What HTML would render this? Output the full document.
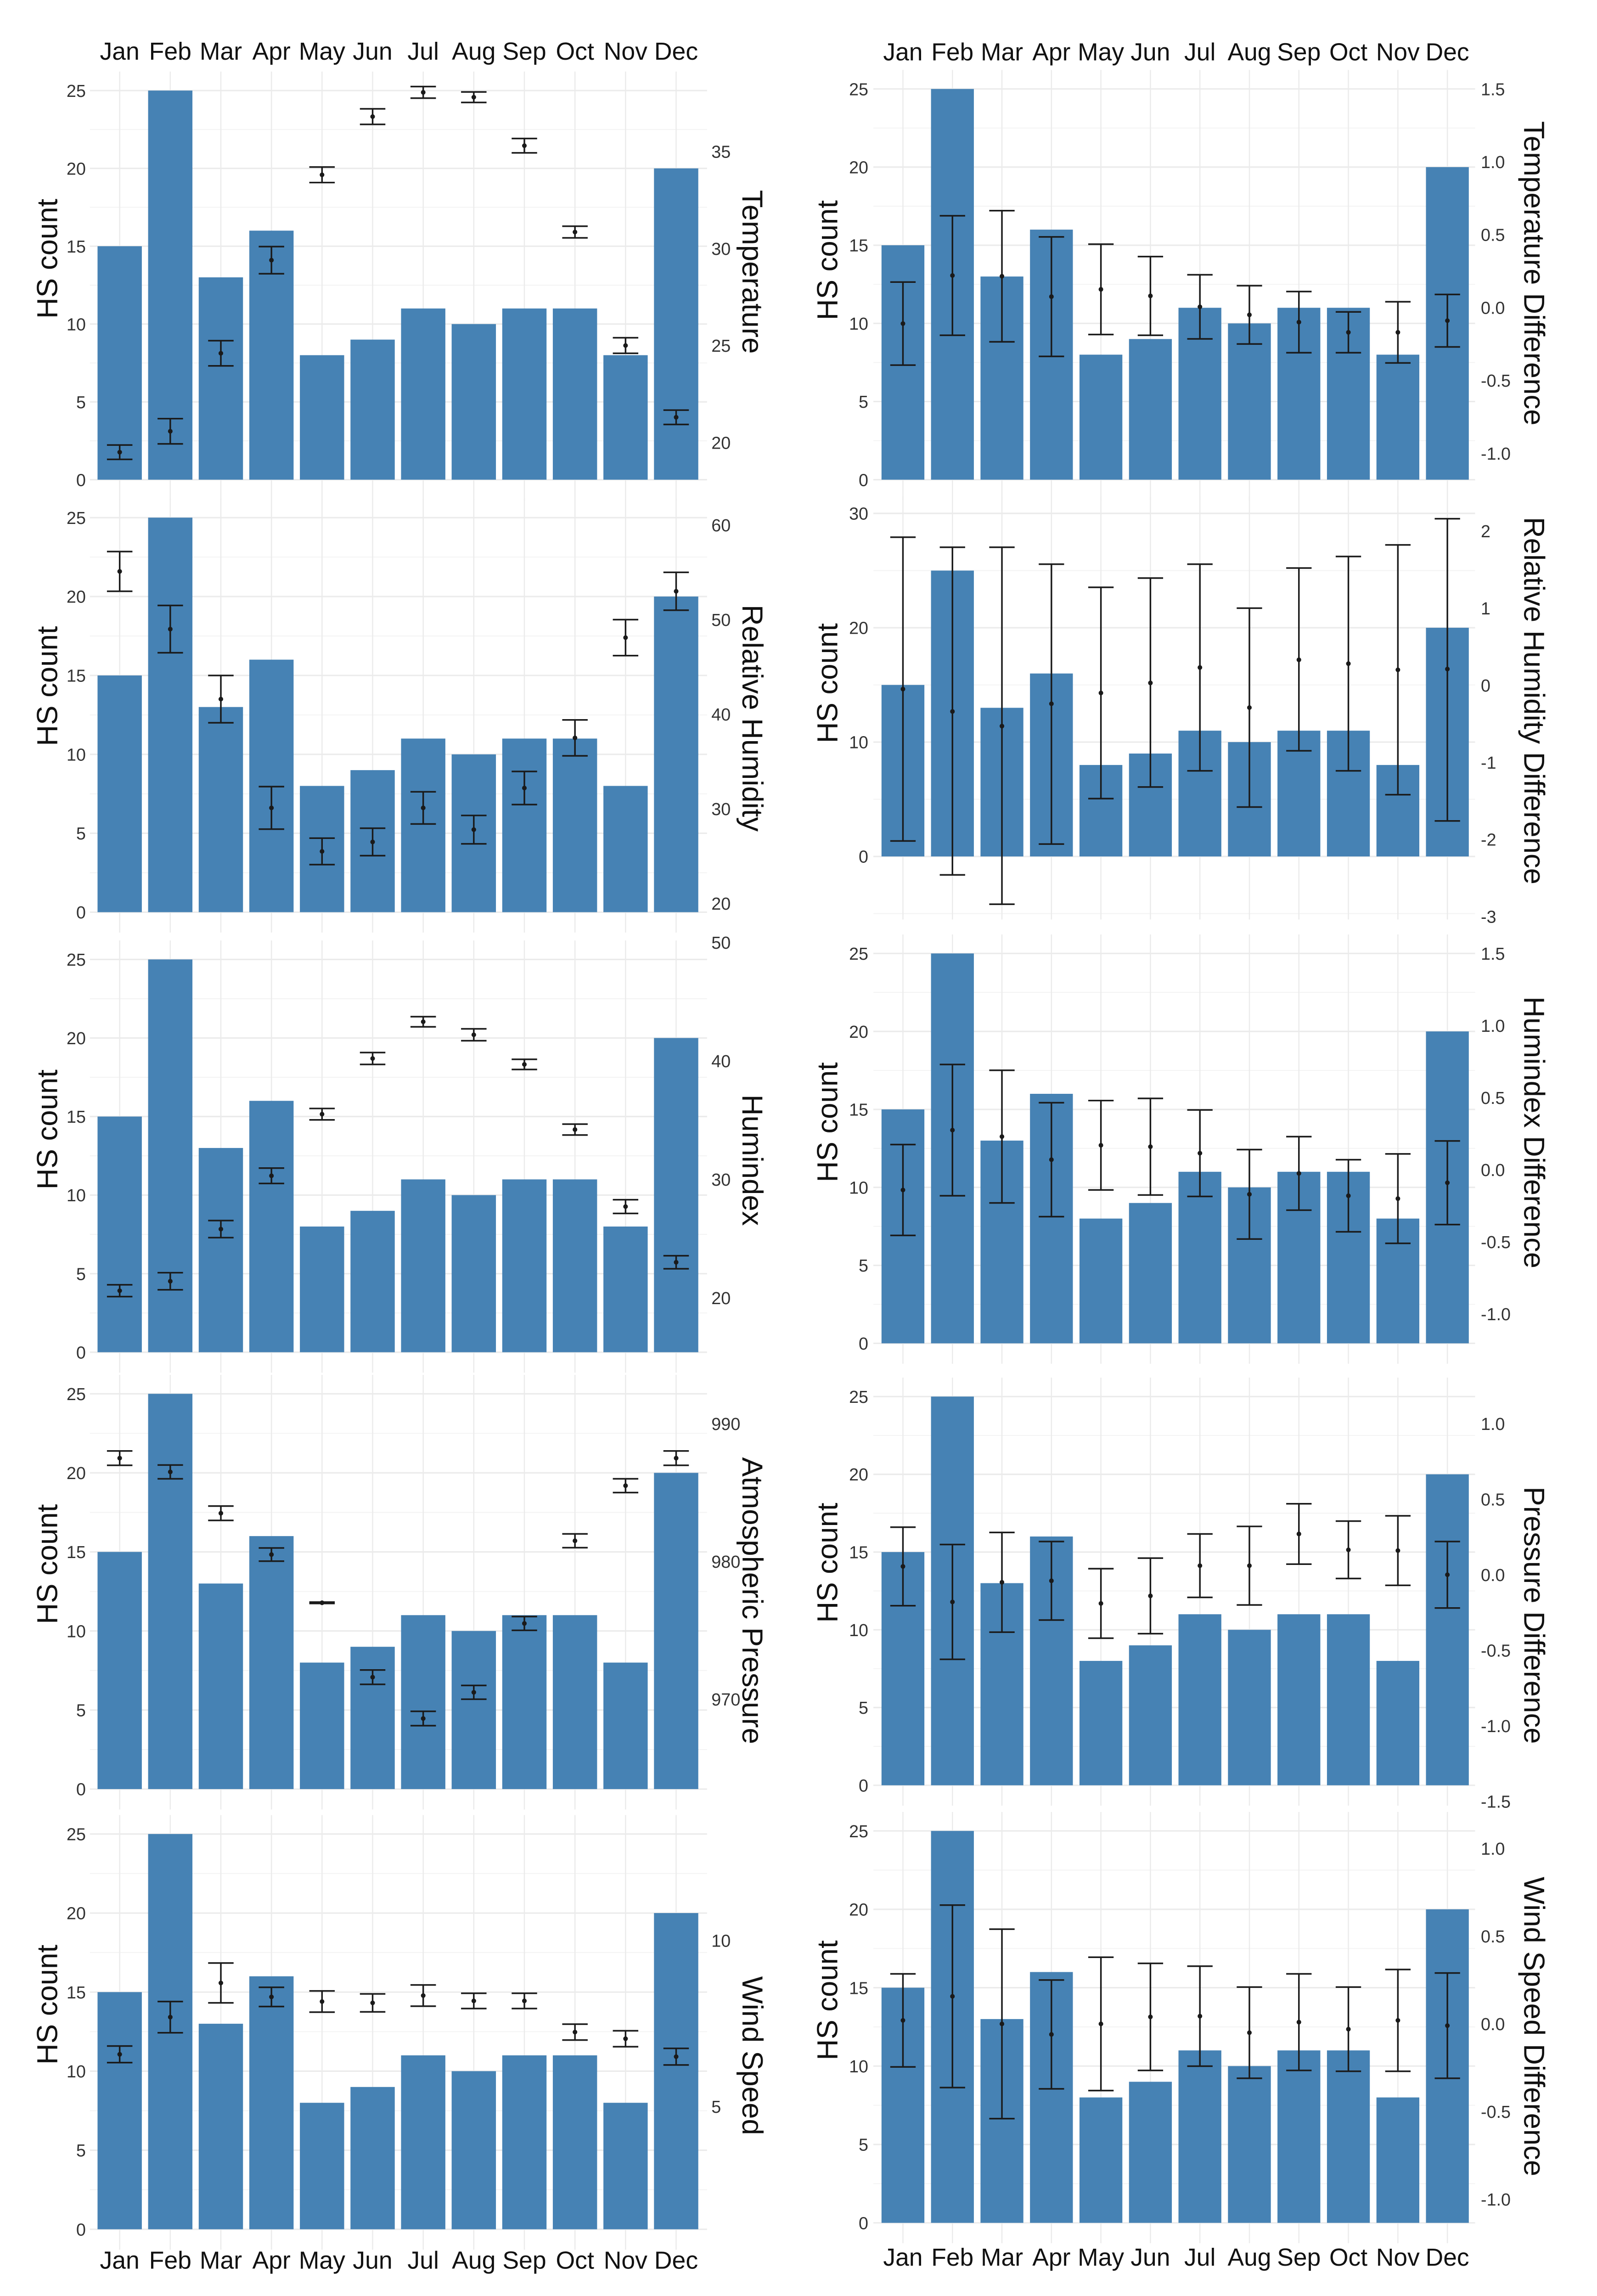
<!DOCTYPE html>
<html><head><meta charset="utf-8"><title>HS count by month with weather variables</title>
<style>
html,body{margin:0;padding:0;background:#fff;width:3478px;height:5043px;overflow:hidden;}
svg{display:block;}
text{font-family:"Liberation Sans",sans-serif;}
</style></head>
<body>
<svg id="chart" xmlns="http://www.w3.org/2000/svg" width="3478" height="5043" viewBox="0 0 1083.5 1571" preserveAspectRatio="none" overflow="hidden">
<g id="colL" transform="translate(-0.5,-1.6) scale(0.982,0.9895)"></g>
<g id="colR" transform="translate(7.1,-1.6) scale(0.979,0.9895)"></g>
</svg>
<script>
const months=["Jan","Feb","Mar","Apr","May","Jun","Jul","Aug","Sep","Oct","Nov","Dec"];
const counts=[15,25,13,16,8,9,11,10,11,11,8,20];
const tempMean=[19.5,20.58,24.6,29.4,33.8,36.8,38.05,37.8,35.3,30.85,25.0,21.3];
const tempErr=[0.37,0.65,0.65,0.7,0.4,0.4,0.3,0.27,0.37,0.3,0.4,0.37];
const rhMean=[55.1,49.0,41.6,30.1,25.5,26.5,30.1,27.8,32.2,37.5,48.1,53.0];
const rhErr=[2.1,2.5,2.5,2.25,1.4,1.45,1.7,1.5,1.75,1.9,1.9,2.0];
const hxMean=[20.6,21.4,25.8,30.3,35.5,40.2,43.3,42.2,39.7,34.2,27.7,23.0];
const hxErr=[0.5,0.72,0.72,0.65,0.48,0.5,0.43,0.5,0.43,0.46,0.58,0.55];
const apMean=[987.5,986.5,983.5,980.5,977.0,971.6,968.6,970.5,975.5,981.5,985.5,987.5];
const apErr=[0.52,0.5,0.52,0.48,0.05,0.52,0.52,0.5,0.5,0.5,0.5,0.52];
const wsMean=[6.57,7.69,8.72,8.3,8.16,8.12,8.34,8.18,8.18,7.24,7.04,6.5];
const wsErr=[0.25,0.47,0.6,0.29,0.32,0.27,0.32,0.23,0.23,0.24,0.24,0.25];
const tdMean=[-0.11,0.22,0.215,0.075,0.125,0.08,0.005,-0.05,-0.1,-0.17,-0.17,-0.09];
const tdErr=[0.285,0.41,0.45,0.41,0.31,0.27,0.22,0.2,0.21,0.14,0.21,0.18];
const rhdHigh=[1.92,1.79,1.79,1.57,1.27,1.39,1.57,1.0,1.52,1.67,1.82,2.16];
const rhdMean=[-0.05,-0.34,-0.53,-0.24,-0.1,0.03,0.23,-0.29,0.33,0.28,0.2,0.21];
const rhdLow=[-2.02,-2.46,-2.84,-2.06,-1.47,-1.32,-1.11,-1.58,-0.85,-1.11,-1.42,-1.76];
const hdMean=[-0.14,0.275,0.23,0.07,0.17,0.16,0.115,-0.17,-0.025,-0.18,-0.2,-0.09];
const hdErr=[0.315,0.455,0.46,0.395,0.31,0.335,0.3,0.31,0.255,0.25,0.31,0.29];
const pdMean=[0.055,-0.18,-0.05,-0.04,-0.19,-0.14,0.06,0.06,0.27,0.165,0.16,0.0];
const pdErr=[0.26,0.38,0.33,0.26,0.23,0.25,0.21,0.26,0.2,0.19,0.23,0.22];
const wdMean=[0.02,0.157,0.0,-0.06,0.0,0.04,0.044,-0.05,0.01,-0.03,0.02,-0.01];
const wdErr=[0.265,0.52,0.54,0.31,0.38,0.305,0.285,0.26,0.275,0.24,0.29,0.3];
const countTicks=[0,5,10,15,20,25];
const countTicksRH=[0,10,20,30];

const NS="http://www.w3.org/2000/svg";
function mk(tag,attrs,parent){const e=document.createElementNS(NS,tag);for(const k in attrs)e.setAttribute(k,attrs[k]);parent.appendChild(e);return e;}

const cols={
 L:{x0:83.2,step:34.95,barW:30.6,gx1:62.6,gx2:489,cLab:59.8,sLab:492,hsX:33,tX:520.5,cap:8.8,el:document.getElementById("colL")},
 R:{x0:618.5,step:34.3,barW:29.7,gx1:598,gx2:1015,cLab:594.5,sLab:1019,hsX:566,tX:1056,cap:8.8,el:document.getElementById("colR")}
};
function sym(m,e){return {mean:m,lo:m.map((v,i)=>v-e[i]),hi:m.map((v,i)=>v+e[i])};}
const panels=[
 {name:"temperature",col:"L",zeroY:330.5,y25:63.7,ct:countTicks,s1:[35,105.5],s2:[20,305],sTicks:[20,25,30,35],sFmt:0,title:"Temperature",hsY:179,tY:188,d:sym(tempMean,tempErr),top:"top"},
 {name:"relative-humidity",col:"L",zeroY:627,y25:356.5,ct:countTicks,s1:[60,361.6],s2:[20,621],sTicks:[20,30,40,50,60],sFmt:0,title:"Relative Humidity",hsY:472,tY:494,d:sym(rhMean,rhErr)},
 {name:"humindex",col:"L",zeroY:928.7,y25:659.4,ct:countTicks,s1:[50,647.7],s2:[20,891.4],sTicks:[20,30,40,50],sFmt:0,title:"Humindex",hsY:776,tY:797,d:sym(hxMean,hxErr)},
 {name:"atmospheric-pressure",col:"L",zeroY:1228.2,y25:957.2,ct:countTicks,s1:[990,977.7],s2:[970,1166.6],sTicks:[970,980,990],sFmt:0,title:"Atmospheric Pressure",hsY:1074,tY:1099,d:sym(apMean,apErr)},
 {name:"wind-speed",col:"L",zeroY:1530,y25:1259,ct:countTicks,s1:[10,1332],s2:[5,1445.8],sTicks:[5,10],sFmt:0,title:"Wind Speed",hsY:1376,tY:1411,d:sym(wsMean,wsErr),bottom:1551},
 {name:"temperature-difference",col:"R",zeroY:330.5,y25:62.6,ct:countTicks,s1:[1.5,62.6],s2:[-1.0,312.4],sTicks:[-1,-0.5,0,0.5,1,1.5],sFmt:1,title:"Temperature Difference",hsY:180,tY:189,d:sym(tdMean,tdErr),top:"top"},
 {name:"relative-humidity-difference",col:"R",zeroY:588.8,y25:588.8-25*7.84,ct:countTicksRH,s1:[2,365.7],s2:[-3,630],sTicks:[-3,-2,-1,0,1,2],sFmt:0,title:"Relative Humidity Difference",hsY:470,tY:482,d:{mean:rhdMean,lo:rhdLow,hi:rhdHigh},gTop:342,gBot:632,minorExtra:[-5]},
 {name:"humindex-difference",col:"R",zeroY:922.6,y25:655.3,ct:countTicks,s1:[1.5,655.3],s2:[-1.0,902.5],sTicks:[-1,-0.5,0,0.5,1,1.5],sFmt:1,title:"Humindex Difference",hsY:771,tY:778,d:sym(hdMean,hdErr)},
 {name:"pressure-difference",col:"R",zeroY:1225.6,y25:959.1,ct:countTicks,s1:[1.0,977.7],s2:[-1.5,1236.6],sTicks:[-1.5,-1,-0.5,0,0.5,1],sFmt:1,title:"Pressure Difference",hsY:1073,tY:1109,d:sym(pdMean,pdErr)},
 {name:"wind-speed-difference",col:"R",zeroY:1525.6,y25:1256.9,ct:countTicks,s1:[1.0,1268.9],s2:[-1.0,1509.5],sTicks:[-1,-0.5,0,0.5,1],sFmt:1,title:"Wind Speed Difference",hsY:1373,tY:1391,d:sym(wdMean,wdErr),bottom:1549}
];
const topLabelY={L:36.5,R:37};

panels.forEach(p=>{
 const c=cols[p.col];
 const g=mk("g",{},c.el);
 
 
 const unit=(p.zeroY-p.y25)/25;
 const yC=v=>p.zeroY-v*unit;
 const ys=v=>p.s1[1]+(v-p.s1[0])*(p.s2[1]-p.s1[1])/(p.s2[0]-p.s1[0]);
 const xM=i=>c.x0+i*c.step;
 const maxC=p.ct[p.ct.length-1];
 const gTop=p.gTop||(yC(maxC)-13);
 const gBot=p.gBot||(p.zeroY+14);
 const stepC=p.ct[1]-p.ct[0];
 const minors=p.ct.slice(0,-1).map(v=>v+stepC/2).concat(p.minorExtra||[]);
 minors.forEach(v=>{const l=mk("line",{x1:c.gx1,x2:c.gx2,y1:yC(v),y2:yC(v),stroke:"#f3f3f3","stroke-width":0.6},g);
  });
 months.forEach((m,i)=>{const l=mk("line",{x1:xM(i),x2:xM(i),y1:gTop,y2:gBot,stroke:"#ebebeb","stroke-width":0.8},g);
  });
 p.ct.forEach(v=>{
  const l=mk("line",{x1:c.gx1,x2:c.gx2,y1:yC(v),y2:yC(v),stroke:"#ebebeb","stroke-width":1},g);
  
  const t=mk("text",{x:c.cLab,y:yC(v)+4.3,"text-anchor":"end","font-size":12,fill:"#333"},g);
  t.textContent=v;
  
 });
 counts.forEach((v,i)=>{
  const r=mk("rect",{x:xM(i)-c.barW/2,y:yC(v),width:c.barW,height:p.zeroY-yC(v),fill:"#4682b4"},g);
  
  
 });
 months.forEach((m,i)=>{
  const eg=mk("g",{stroke:"#1a1a1a","stroke-width":1.1,fill:"none"},g);
  
  
  const yh=ys(p.d.hi[i]),yl=ys(p.d.lo[i]),ym=ys(p.d.mean[i]),x=xM(i);
  mk("line",{x1:x,x2:x,y1:yh,y2:yl},eg);
  mk("line",{x1:x-c.cap,x2:x+c.cap,y1:yh,y2:yh},eg);
  mk("line",{x1:x-c.cap,x2:x+c.cap,y1:yl,y2:yl},eg);
  const d=mk("circle",{cx:x,cy:ym,r:1.6,fill:"#1a1a1a",stroke:"none"},g);
  
  
 });
 p.sTicks.forEach(v=>{
  const t=mk("text",{x:c.sLab,y:ys(v)+4.3,"font-size":12,fill:"#333"},g);
  t.textContent=p.sFmt?v.toFixed(1):String(v);
  
 });
 const hs=mk("text",{x:0,y:0,"font-size":20,fill:"#111","text-anchor":"middle",transform:`translate(${c.hsX+7},${p.hsY}) rotate(-90)`},g);
 hs.textContent="HS count";
 
 const st=mk("text",{x:0,y:0,"font-size":20,fill:"#111","text-anchor":"middle",transform:`translate(${c.tX-7},${p.tY}) rotate(90)`},g);
 st.textContent=p.title;
 
 if(p.top||p.bottom){
  const ly=p.top?topLabelY[p.col]:p.bottom;
  months.forEach((m,i)=>{
   const t=mk("text",{x:xM(i),y:ly+6,"text-anchor":"middle","font-size":17,fill:"#111"},g);
   t.textContent=m;
   
  });
 }
});
</script>
</body></html>
